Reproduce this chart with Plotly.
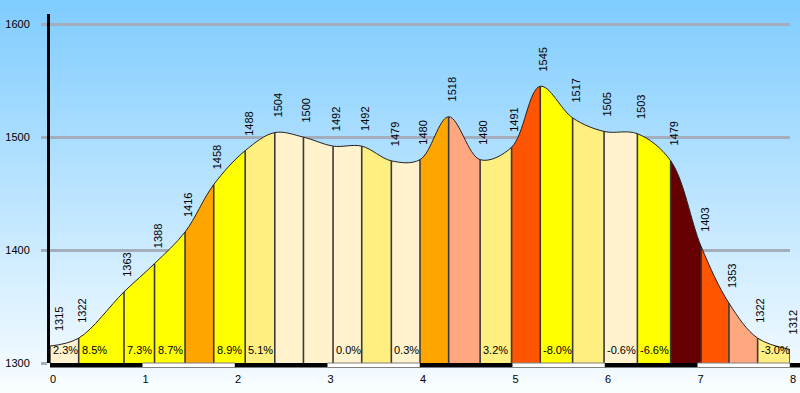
import plotly.graph_objects as go

# ---------------- data ----------------
dist_km = [0, 0.31, 0.80, 1.13, 1.46, 1.77, 2.11, 2.43, 2.74, 3.06, 3.37, 3.69, 4.00,
           4.31, 4.65, 4.99, 5.30, 5.65, 5.99, 6.35, 6.71, 7.04, 7.34, 7.65, 8.00]
elev_m = [1315, 1322, 1363, 1388, 1416, 1458, 1488, 1504, 1500, 1492, 1492, 1479, 1480,
          1518, 1480, 1491, 1545, 1517, 1505, 1503, 1479, 1403, 1353, 1322, 1312]
grade_labels = ["2.3%", "8.5%", "7.3%", "8.7%", "", "8.9%", "5.1%", "", "", "0.0%", "", "0.3%",
                "", "", "3.2%", "", "-8.0%", "", "-0.6%", "-6.6%", "", "", "", "-3.0%"]
x_ticks = [0, 1, 2, 3, 4, 5, 6, 7, 8]
y_ticks = [1300, 1400, 1500, 1600]

CREAM, YEL, LYEL, ORG, SAL, ORED, MAR = ("#FFF2CC", "#FFFF00", "#FFEE80", "#FFA500",
                                         "#FFA880", "#FF5500", "#660000")
seg_colors = [CREAM, YEL, YEL, YEL, ORG, YEL, LYEL, CREAM, CREAM, CREAM, LYEL, CREAM,
              ORG, SAL, LYEL, ORED, YEL, LYEL, CREAM, YEL, MAR, ORED, SAL, LYEL]

# ---------------- layout geometry ----------------
W, H = 800, 393
ML, MR, MT, MB = 50, 10, 14, 30
plot_w = W - ML - MR
plot_h = H - MT - MB
xmin, xmax = x_ticks[0], x_ticks[-1]
yrange = [1300, 1300 + 309]
FONT = "Liberation Sans, Arial, sans-serif"

fig = go.Figure()
layout = dict(
    width=W, height=H,
    margin=dict(l=ML, r=MR, t=MT, b=MB, pad=0, autoexpand=False),
    paper_bgcolor="#F8FCFF",
    plot_bgcolor="rgba(0,0,0,0)",
    showlegend=False,
    hovermode=False,
    font=dict(family=FONT, size=10, color="#000"),
)

# main axes (grid + ticks)
layout["xaxis"] = dict(domain=[0, 1], range=[xmin, xmax], tickvals=x_ticks,
                       ticktext=[str(t) for t in x_ticks], showgrid=False, zeroline=False,
                       ticks="outside", ticklen=6, tickcolor="rgba(0,0,0,0)",
                       ticklabelshift=3,
                       tickfont=dict(size=11, family=FONT), anchor="y", fixedrange=True)
layout["yaxis"] = dict(domain=[0, 1], range=yrange, tickvals=y_ticks,
                       showgrid=True, gridcolor="#A3ADBB", gridwidth=3, zeroline=False,
                       showline=True, linecolor="#000", linewidth=3,
                       ticks="outside", ticklen=6, tickwidth=3, tickcolor="#A3ADBB",
                       ticklabelstandoff=9,
                       tickfont=dict(size=11, family=FONT), anchor="x", fixedrange=True)

# main subplot invisible trace so grid shows
fig.add_trace(go.Scatter(x=[xmin], y=[yrange[0]], mode="markers", marker=dict(opacity=0),
                         xaxis="x", yaxis="y", hoverinfo="skip"))

# coloured segments, each clipped by its own x-axis domain
nseg = len(dist_km) - 1
for i in range(nseg):
    ax_id = i + 2
    layout[f"xaxis{ax_id}"] = dict(domain=[(dist_km[i] - xmin) / (xmax - xmin),
                                           (dist_km[i + 1] - xmin) / (xmax - xmin)],
                                   range=[dist_km[i], dist_km[i + 1]], visible=False,
                                   anchor="y", fixedrange=True)
    fig.add_trace(go.Scatter(x=dist_km, y=elev_m, mode="lines",
                             line=dict(shape="spline", width=0, color=seg_colors[i]),
                             fill="tozeroy", fillcolor=seg_colors[i],
                             xaxis=f"x{ax_id}", yaxis="y", hoverinfo="skip"))

# top overlay subplot for outline and separators
top_x = nseg + 2
layout[f"xaxis{top_x}"] = dict(domain=[0, 1], range=[xmin, xmax], visible=False,
                               anchor="y2", fixedrange=True)
layout["yaxis2"] = dict(domain=[0, 1], range=yrange, visible=False, anchor=f"x{top_x}",
                        fixedrange=True)

sep_x, sep_y = [], []
for d, e in zip(dist_km, elev_m):
    sep_x += [d, d, None]
    sep_y += [yrange[0], e, None]
fig.add_trace(go.Scatter(x=sep_x, y=sep_y, mode="lines",
                         line=dict(color="#3A3A3A", width=1.6),
                         xaxis=f"x{top_x}", yaxis="y2", hoverinfo="skip"))
fig.add_trace(go.Scatter(x=dist_km, y=elev_m, mode="lines",
                         line=dict(shape="spline", color="#222", width=1),
                         xaxis=f"x{top_x}", yaxis="y2", hoverinfo="skip"))

# background gradient
shapes = []
nstr = 131
top_c, bot_c = (127, 204, 255), (249, 253, 255)
for k in range(nstr):
    py0 = k * H / nstr
    py1 = (k + 1) * H / nstr
    t = (k + 0.5) / nstr
    c = tuple(round(top_c[j] + (bot_c[j] - top_c[j]) * t) for j in range(3))
    shapes.append(dict(type="rect", xref="paper", yref="paper", layer="below",
                       x0=-ML / plot_w - 0.01, x1=1 + MR / plot_w + 0.01,
                       y0=(H - MB - py1) / plot_h, y1=(H - MB - py0) / plot_h + 0.001,
                       fillcolor=f"rgb{c}", line=dict(width=0)))

# distance scale bar under the axis
bar_h = 4.5 / plot_h
for a, b in zip(x_ticks[:-1], x_ticks[1:]):
    black = (a % 2 == 0)
    shapes.append(dict(type="rect", xref="x", yref="paper", layer="above",
                       x0=a, x1=b, y0=-bar_h, y1=0,
                       fillcolor="#000" if black else "#FFF",
                       line=dict(width=1 if not black else 0, color="#808080")))
shapes.append(dict(type="rect", xref="paper", yref="paper", layer="above",
                   x0=1, x1=1 + MR / plot_w, y0=-bar_h, y1=0,
                   fillcolor="#000", line=dict(width=0)))
layout["shapes"] = shapes

# annotations
ann = []
for i, (d, e) in enumerate(zip(dist_km, elev_m)):
    ann.append(dict(x=d, y=e, xref="x", yref="y", text=str(e), showarrow=False,
                    textangle=-90, xanchor="center", yanchor="bottom",
                    xshift=9 if i == 0 else 3, yshift=13,
                    font=dict(size=11, family=FONT, color="#000")))
for i, g in enumerate(grade_labels):
    if g:
        ann.append(dict(x=dist_km[i], y=yrange[0], xref="x", yref="y", text=g,
                        showarrow=False, xanchor="left", yanchor="bottom",
                        xshift=1, yshift=5,
                        font=dict(size=11, family=FONT, color="#000")))
layout["annotations"] = ann

fig.update_layout(**layout)
fig.write_html("out.html", config={"displayModeBar": False},
               post_script="document.body.style.margin='0px';")
